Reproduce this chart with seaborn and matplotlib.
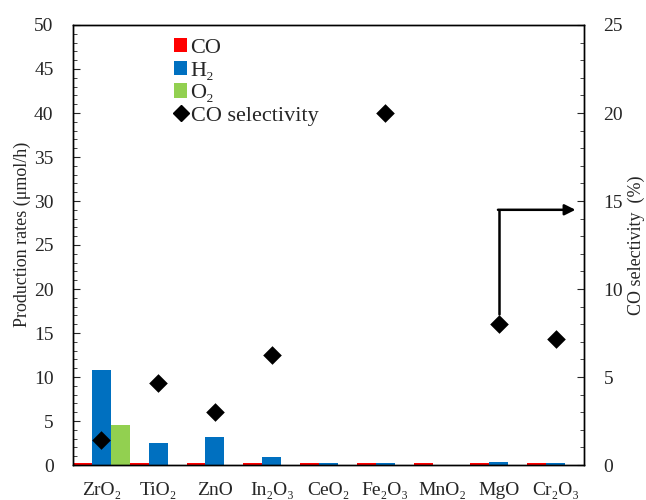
import numpy as np
import pandas as pd
import matplotlib
matplotlib.use("Agg")
import matplotlib.pyplot as plt
import seaborn as sns
from matplotlib.patches import Patch
from matplotlib.lines import Line2D

# catalysts and measured values
catalysts = ["ZrO₂", "TiO₂", "ZnO", "In₂O₃", "CeO₂", "Fe₂O₃", "MnO₂", "MgO", "Cr₂O₃"]
co_rate = [0.25, 0.25, 0.25, 0.25, 0.25, 0.25, 0.25, 0.25, 0.25]
h2_rate = [10.8, 2.5, 3.2, 0.9, 0.2, 0.2, np.nan, 0.3, 0.2]
o2_rate = [4.6, np.nan, np.nan, np.nan, np.nan, np.nan, np.nan, np.nan, np.nan]
co_sel = [1.4, 4.65, 3.0, 6.25, np.nan, 20.0, np.nan, 8.0, 7.15]

gases = ["CO", "H₂", "O₂"]
colors = ["#FF0000", "#0070C0", "#92D050"]

sns.set_style("ticks")
plt.rcParams["font.family"] = ["Liberation Serif", "DejaVu Serif"]

df = pd.DataFrame({
    "catalyst": catalysts * 3,
    "gas": [g for g in gases for _ in catalysts],
    "rate": co_rate + h2_rate + o2_rate,
})

fig, ax = plt.subplots(figsize=(6.46, 5.0), dpi=100)
fig.subplots_adjust(left=0.113, right=0.904, top=0.95, bottom=0.07)

sns.barplot(data=df, x="catalyst", y="rate", hue="gas", order=catalysts,
            hue_order=gases, palette=colors, width=1.0, gap=0,
            saturation=1, errorbar=None, legend=False, linewidth=0, ax=ax)

ax.set_xlim(-0.5, len(catalysts) - 0.5)
ax.set_ylim(0, 50)
ax.set_yticks(np.arange(0, 51, 5))
ax.set_yticks(np.arange(0, 51, 1), minor=True)
ax.set_xlabel("")
ax.set_ylabel("Production rates (μmol/h)", fontsize=13)
ax.yaxis.set_label_coords(-0.082, 0.525)
ax.tick_params(axis="y", which="both", direction="in", labelsize=14, pad=14)
ax.tick_params(axis="y", which="major", length=5)
ax.tick_params(axis="y", which="minor", length=3)
ax.tick_params(axis="x", length=0, labelsize=14, pad=12)

ax2 = ax.twinx()
pos = np.arange(len(catalysts))
sns.scatterplot(x=pos, y=co_sel, marker="D", color="black", s=90,
                edgecolor="black", linewidth=0, ax=ax2, zorder=5)
ax2.set_xlim(-0.5, len(catalysts) - 0.5)
ax2.set_ylim(0, 25)
ax2.set_yticks(np.arange(0, 26, 5))
ax2.set_yticks(np.arange(0, 26, 1), minor=True)
ax2.set_ylabel("CO selectivity  (%)", fontsize=13, labelpad=3)
ax2.tick_params(axis="y", which="both", direction="in", labelsize=14, pad=14)
ax2.tick_params(axis="y", which="major", length=5)
ax2.tick_params(axis="y", which="minor", length=3)

for a in (ax, ax2):
    for s in a.spines.values():
        s.set_color("black")
        s.set_linewidth(1.0)

# arrow pointing to the right axis
mg = catalysts.index("MgO")
ax2.plot([mg, mg], [8.6, 14.5], color="black", lw=1.8, zorder=4)
ax2.annotate("", xy=(8.35, 14.5), xytext=(mg - 0.015, 14.5),
             arrowprops=dict(arrowstyle="-|>", color="black", lw=1.8,
                             mutation_scale=16, shrinkA=0, shrinkB=0))

handles = [Patch(facecolor=c, edgecolor="none") for c in colors]
handles.append(Line2D([], [], marker="D", color="black", ls="none", markersize=8))
ax.legend(handles, gases + ["CO selectivity"], loc="upper left",
          bbox_to_anchor=(0.18, 0.99), frameon=False, fontsize=16,
          handlelength=0.6, handleheight=0.6, handletextpad=0.15,
          labelspacing=0.12, borderaxespad=0)

fig.savefig("out.png", dpi=100)
